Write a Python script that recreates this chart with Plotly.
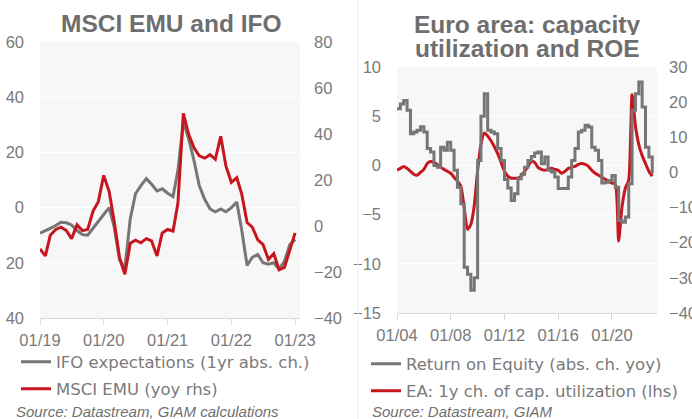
import pandas as pd
import plotly.graph_objects as go

# ---------------- data: left chart (monthly, 01/2019 - 01/2023) ----------------
left_dates = pd.date_range("2019-01-01", periods=49, freq="MS")
ifo_expectations = [
    -9.3, -8.5, -7.5, -6.5, -5.3, -5.5, -6.3, -8.3, -9.8, -10.0, -7.6, -5.0,
    -2.5, 0.0, -7.0, -19.0, -22.0, -4.0, 5.0, 8.0, 10.5, 8.5, 6.0, 6.8,
    5.2, 4.0, 13.5, 31.0, 25.0, 17.0, 8.0, 3.0, -0.5, -1.5, -0.5, -1.5,
    0.0, 2.0, -8.0, -21.0, -18.0, -17.0, -20.0, -20.5, -20.0, -22.3, -19.5, -13.5,
    -11.5,
]
msci_emu_yoy = [
    -10.0, -13.0, -4.0, -1.5, -0.5, -2.0, -5.5, 0.5, -2.0, -1.5, 6.5, 10.6,
    22.0, 15.0, 2.0, -14.0, -21.0, -7.5, -6.2, -7.3, -5.5, -6.5, -13.0, -3.0,
    -1.5, -2.2, 10.0, 49.0, 40.0, 34.0, 30.5, 29.5, 31.0, 29.0, 39.0, 26.0,
    19.0, 21.0, 14.0, 1.5, -0.5, -6.0, -8.0, -14.5, -12.0, -19.0, -18.0, -11.0,
    -3.0,
]
left_y_ticks = [-40, -20, 0, 20, 40, 60]
left_y_labels = ["40", "20", "0", "20", "40", "60"]
left_y2_ticks = [-40, -20, 0, 20, 40, 60, 80]

# ---------------- data: right chart (quarterly, 2004Q1 - 2023Q1) ----------------
right_dates = pd.date_range("2004-01-01", periods=77, freq="QS")
roe_abs_change = [
    18.1, 19.5, 20.5, 17.7, 11.0, 11.5, 12.0, 13.0, 11.5, 6.8, 5.8, 2.0,
    1.5, 7.2, 6.3, 8.6, 6.3, 0.6, -4.2, -8.9, -27.0, -29.0, -33.5, -30.0,
    3.4, 16.0, 22.4, 12.0, 11.5, 11.0, 6.8, 3.4, -2.0, -4.4, -8.0, -6.1,
    -1.8, -0.5, 1.5, 3.4, 4.5, 5.5, 5.8, 2.5, 4.4, 0.6, 0.1, -1.3,
    -4.6, -4.6, -4.6, -1.3, 3.4, 6.8, 11.5, 12.0, 13.4, 12.9, 7.2, 6.3,
    3.4, -3.0, -2.8, -2.3, -0.9, -4.2, -13.7, -14.2, -12.7, -3.2, 17.7, 22.4,
    25.7, 18.6, 7.2, 4.4, -0.4,
]
cap_util_change = [
    -0.5, -0.3, -0.1, -0.3, -0.6, -0.9, -1.0, -0.7, -0.4, 0.2, 0.4, 0.3,
    0.1, -0.2, -0.4, -0.6, -0.8, -1.2, -1.6, -2.1, -4.3, -6.5, -6.0, -4.1,
    -0.5, 2.1, 3.3, 3.0, 2.5, 1.9, 1.2, 0.3, -0.6, -1.1, -1.3, -1.3,
    -1.3, -1.1, -0.6, -0.1, 0.4, 0.3, -0.2, -0.4, -0.5, -0.4, -0.3, -0.4,
    -0.5, -0.8, -0.6, -0.3, -0.2, -0.1, 0.1, 0.2, 0.1, -0.1, -0.5, -0.8,
    -1.0, -1.2, -1.4, -1.6, -1.8, -1.9, -7.7, -4.2, -2.3, -1.5, 7.2, 4.0,
    2.1, 1.0, 0.2, -0.6, -1.1,
]
right_y_ticks = [-15, -10, -5, 0, 5, 10]
right_y2_ticks = [-40, -30, -20, -10, 0, 10, 20, 30]

# ---------------- styling ----------------
W, H = 692, 419
GRAY = "#767676"
RED = "#c8161e"
TXT = "#7a7a7a"
TICKFONT = dict(family="Liberation Sans, Arial, sans-serif", size=16.5, color=TXT)
LEGFONT = dict(family="DejaVu Sans, sans-serif", size=16.5, color=TXT)


def px_x(x):
    return x / W


def px_y(y):
    return 1 - y / H


fig = go.Figure()

fig.add_trace(go.Scatter(x=left_dates, y=ifo_expectations, mode="lines",
                         line=dict(color=GRAY, width=3),
                         name="IFO expectations (1yr abs. ch.)",
                         xaxis="x", yaxis="y", legend="legend"))
fig.add_trace(go.Scatter(x=left_dates, y=msci_emu_yoy, mode="lines",
                         line=dict(color=RED, width=3),
                         name="MSCI EMU (yoy rhs)",
                         xaxis="x", yaxis="y2", legend="legend2"))
fig.add_trace(go.Scatter(x=right_dates, y=roe_abs_change, mode="lines",
                         line=dict(color=GRAY, width=3, shape="hv"),
                         name="Return on Equity (abs. ch. yoy)",
                         xaxis="x2", yaxis="y4", legend="legend3"))
fig.add_trace(go.Scatter(x=right_dates, y=cap_util_change, mode="lines",
                         line=dict(color=RED, width=3, shape="spline", smoothing=0.6),
                         name="EA: 1y ch. of cap. utilization (lhs)",
                         xaxis="x2", yaxis="y3", legend="legend4"))

xcommon = dict(showgrid=False, zeroline=False, showline=True, linecolor="#d9d9d9",
               linewidth=1, ticks="outside", ticklen=6, tickcolor="#d9d9d9",
               tickformat="%m/%y", tickfont=TICKFONT, ticklabelstandoff=1,
               automargin=False)
ycommon = dict(zeroline=False, showline=False, ticks="", tickfont=TICKFONT,
               automargin=False)

L_dom_x = [px_x(40), px_x(300)]
L_dom_y = [px_y(318), px_y(42)]
R_dom_x = [px_x(397), px_x(657)]
R_dom_y = [px_y(313), px_y(67)]

fig.update_layout(
    width=W, height=H,
    margin=dict(l=0, r=0, t=0, b=0, autoexpand=False),
    paper_bgcolor="white", plot_bgcolor="#f7f7f7",
    xaxis=dict(domain=L_dom_x, anchor="y", range=["2019-01-01", "2023-01-29"],
               dtick="M12", tick0="2019-01-01", **xcommon),
    yaxis=dict(domain=L_dom_y, anchor="x", range=[-40, 60], tickvals=left_y_ticks,
               ticktext=left_y_labels, showgrid=True, gridcolor="white", gridwidth=1,
               ticklabelstandoff=15, **ycommon),
    yaxis2=dict(overlaying="y", side="right", anchor="x", range=[-40, 80],
                tickvals=left_y2_ticks, showgrid=False, ticklabelstandoff=13, **ycommon),
    xaxis2=dict(domain=R_dom_x, anchor="y3", range=["2004-01-01", "2023-05-10"],
                dtick="M48", tick0="2004-01-01", **xcommon),
    yaxis3=dict(domain=R_dom_y, anchor="x2", range=[-15, 10], tickvals=right_y_ticks,
                showgrid=True, gridcolor="white", gridwidth=1, ticklabelstandoff=15,
                **ycommon),
    yaxis4=dict(overlaying="y3", side="right", anchor="x2", range=[-40, 30],
                tickvals=right_y2_ticks, showgrid=False, ticklabelstandoff=11, **ycommon),
    showlegend=True,
)

leg_common = dict(bgcolor="rgba(0,0,0,0)", font=LEGFONT, xanchor="left",
                  yanchor="middle", itemwidth=30, borderwidth=0)
fig.update_layout(
    legend=dict(x=px_x(16), y=px_y(362), **leg_common),
    legend2=dict(x=px_x(16), y=px_y(389), **leg_common),
    legend3=dict(x=px_x(366), y=px_y(364), **leg_common),
    legend4=dict(x=px_x(366), y=px_y(391), **leg_common),
)

TITLE_FONT = dict(family="Liberation Sans, Arial, sans-serif", size=24.5, color="#6e6e6e")
SRC_FONT = dict(family="Liberation Sans, Arial, sans-serif", size=15, color="#707070",
                style="italic")
annotations = [
    dict(text="<b>MSCI EMU and IFO</b>", x=px_x(171), y=px_y(23), font=TITLE_FONT),
    dict(text="<b>Euro area: capacity</b>", x=px_x(527), y=px_y(24), font=TITLE_FONT,
         height=22),
    dict(text="<b>utilization and ROE</b>", x=px_x(527), y=px_y(48), font=TITLE_FONT,
         height=22),
    dict(text="Source: Datastream, GIAM calculations", x=px_x(14), y=px_y(411),
         xanchor="left", font=SRC_FONT),
    dict(text="Source: Datastream, GIAM", x=px_x(370), y=px_y(411),
         xanchor="left", font=SRC_FONT),
]
for a in annotations:
    a.setdefault("xanchor", "center")
    a.update(xref="paper", yref="paper", yanchor="middle", showarrow=False)
fig.update_layout(annotations=annotations)

fig.add_shape(type="line", xref="paper", yref="paper", x0=px_x(358), x1=px_x(358),
              y0=0, y1=1, line=dict(color="#ececec", width=1))

fig.write_html("out.html",
               config={"displayModeBar": False},
               post_script="document.body.style.margin='0px';"
                           "document.body.style.overflow='hidden';")
